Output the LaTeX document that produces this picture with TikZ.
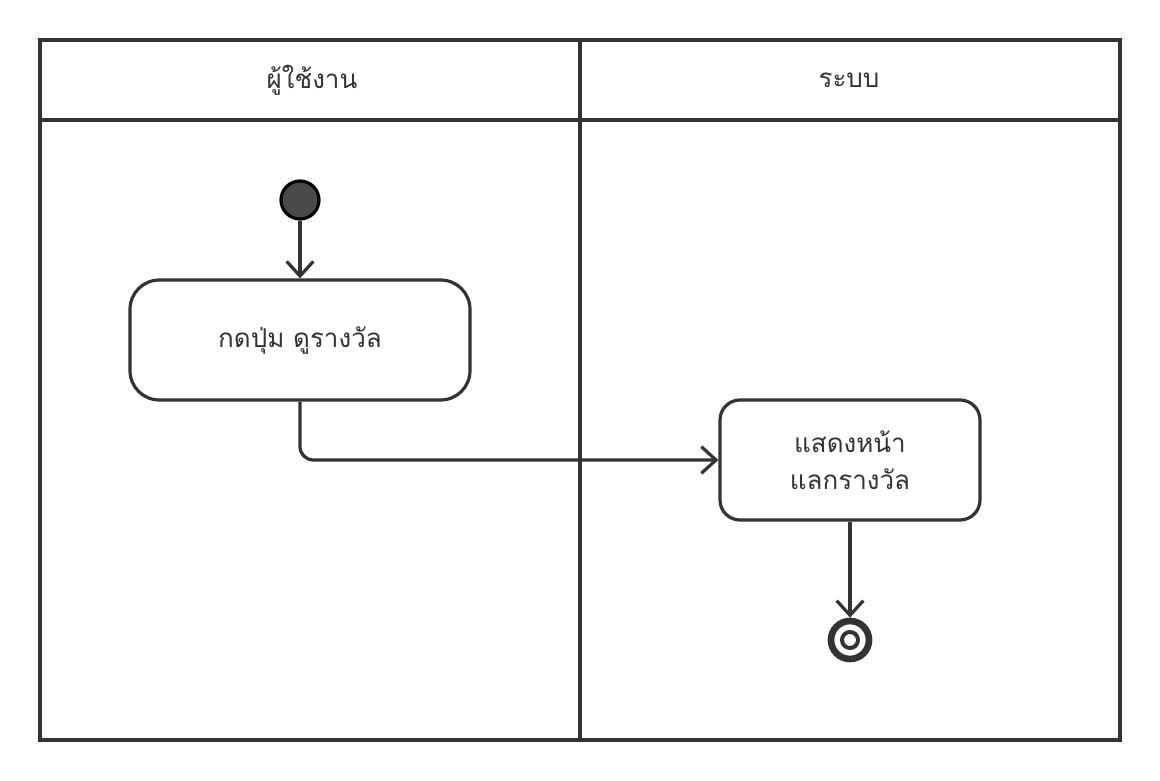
\documentclass[tikz,border=0pt]{standalone}
\usepackage{fontspec}
\newfontfamily\thaifont[Script=Thai]{Loma}
\usetikzlibrary{arrows.meta}
\definecolor{ink}{HTML}{333333}
\definecolor{startfill}{HTML}{4A4A4A}
\begin{document}
\begin{tikzpicture}[x=0.75pt,y=-0.75pt,
  line/.style={draw=ink,line width=2.4pt},
  actbox/.style={line,fill=white,rectangle,align=center,font=\thaifont\fontsize{19.5}{28}\selectfont,text=ink,inner sep=0pt},
  flow/.style={line,-{Straight Barb[length=11pt,width=20pt]},rounded corners=10pt},
  lbl/.style={font=\thaifont\fontsize{19.5}{28}\selectfont,text=ink}]
\useasboundingbox (0,0) rectangle (1160,781);
% swimlane frame
\draw[line] (40,40) rectangle (1120,740);
\draw[line] (40,120) -- (1120,120);
\draw[line] (580,40) -- (580,740);
\node[lbl] (laneA) at (312,80) {ผู้ใช้งาน};
\node[lbl] (laneB) at (849,80) {ระบบ};
% start
\node[circle,draw=black,line width=2.4pt,fill=startfill,minimum size=38pt*0.75,inner sep=0pt] (start) at (300,200) {};
% activities
\node[actbox,rounded corners=22pt,minimum width=340*0.75pt,minimum height=120*0.75pt] (a1) at (300,340) {กดปุ่ม ดูรางวัล};
\node[actbox,rounded corners=15pt,minimum width=260*0.75pt,minimum height=120*0.75pt] (a2) at (850,460) {แสดงหน้า\\แลกรางวัล};
% end
\node[circle,draw=ink,line width=5pt,fill=white,minimum size=38pt*0.75,inner sep=0pt] (end) at (850,640) {};
\node[circle,draw=ink,line width=3pt,minimum size=16pt*0.75,inner sep=0pt] (endin) at (850,640) {};
% connectors
\draw[flow] (start) -- (a1);
\draw[flow] (a1.south) |- (a2.west);
\draw[flow] (a2.south) -- (end.north);
\end{tikzpicture}
\end{document}
